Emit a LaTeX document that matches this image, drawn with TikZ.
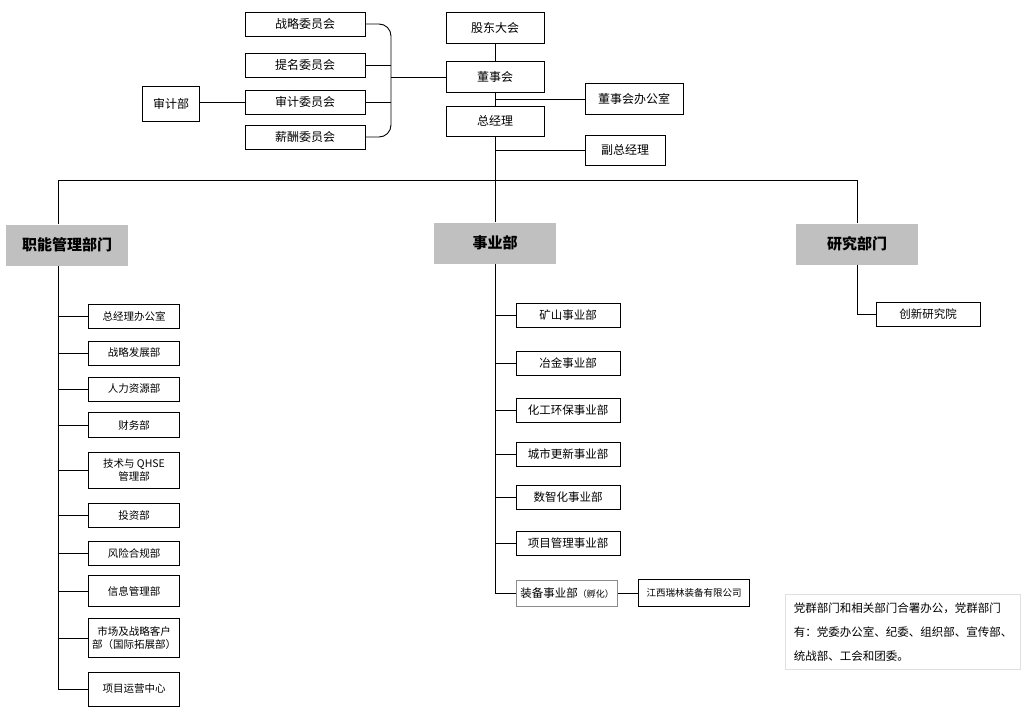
\documentclass[tikz,border=0pt]{standalone}
\usepackage{fontspec}
\setmainfont{Noto Sans CJK SC}
\definecolor{hdgray}{HTML}{C0C0C0}
\tikzset{
  orgbox/.style  = {shape=rectangle, draw, inner sep=1pt, align=center,
                    font=\fontsize{12}{14}\selectfont},
  cmbox/.style   = {orgbox, minimum width=120, minimum height=24},
  topbox/.style  = {orgbox, minimum width=98, minimum height=31},
  head/.style    = {shape=rectangle, fill=hdgray, minimum width=122, minimum height=41,
                    font=\fontsize{15}{17}\selectfont\bfseries},
  fnbox/.style   = {orgbox, minimum width=91, font=\fontsize{10.5}{13}\selectfont},
  busbox/.style  = {orgbox, minimum width=104, minimum height=24,
                    font=\fontsize{11.5}{14}\selectfont},
  note/.style    = {shape=rectangle, draw=black!12, align=left, inner sep=8pt,
                    font=\fontsize{11.5}{24}\selectfont}
}
\begin{document}
\begin{tikzpicture}
  [
    x = 1pt, y = -1pt,
    line width = 0.9pt
  ]
  \useasboundingbox (0,0) rectangle (1023,712);

  % board and committees
  \node [cmbox] (zlw) at (305,24)  {战略委员会};
  \node [cmbox] (tmw) at (305,65)  {提名委员会};
  \node [cmbox] (sjw) at (305,102) {审计委员会};
  \node [cmbox] (xcw) at (305,137) {薪酬委员会};
  \node [orgbox, minimum width=57, minimum height=35] (sjb) at (171,104) {审计部};
  \node [topbox] (gd)  at (495,28)  {股东大会};
  \node [topbox] (dsh) at (495,77)  {董事会};
  \node [topbox] (dsb) at (634,99)  {董事会办公室};
  \node [topbox, minimum height=30] (zjl) at (495,121) {总经理};
  \node [orgbox, minimum width=80, minimum height=30] (fzjl) at (625,150) {副总经理};
  \coordinate (brk) at (391,77);
  \coordinate (lft) at (58,180);

  \draw [rounded corners=12] (zlw.east) -| (brk |- xcw.east) -- (xcw.east);
  \draw (tmw.east) -- (brk |- tmw.east);
  \draw (sjw.east) -- (brk |- sjw.east);
  \draw (brk) -- (dsh.west);
  \draw (sjw.west) -- (sjw.west -| sjb.east);
  \draw (gd) -- (dsh);
  \draw (dsh) -- (zjl);
  \draw (dsh.south |- dsb.west) -- (dsb.west);
  \draw (zjl.south |- fzjl.west) -- (fzjl.west);

  % three groups
  \node [head] (znb) at (67,245)  {职能管理部门};
  \node [head] (sy)  at (495,243) {事业部};
  \node [head] (yjb) at (857,244) {研究部门};
  \draw (zjl.south) -- (sy.north);
  \draw (znb.north -| lft) -- (lft) -- (lft -| yjb.north) -- (yjb.north);

  \foreach \n/\y/\h/\t in {
    zjb/316/24/总经理办公室,
    zlfz/353/24/战略发展部,
    rlzy/389/24/人力资源部,
    cwb/425/25/财务部,
    qhse/470/36/{技术与 QHSE\\管理部},
    tzb/515/24/投资部,
    fxhg/553/24/风险合规部,
    xxgl/591/31/信息管理部,
    scb/638/39/{市场及战略客户\\部（国际拓展部）},
    xmyy/689/34/项目运营中心}
  {
    \node [fnbox, minimum height=\h] (\n) at (134,\y) {\t};
    \draw (lft |- \n.west) -- (\n.west);
  }
  \draw (lft |- znb.south) -- (lft |- xmyy.west);

  \foreach \n/\y/\t in {
    kss/315/矿山事业部,
    yjs/363/冶金事业部,
    hgs/410/化工环保事业部,
    css/454/城市更新事业部,
    szs/497/数智化事业部,
    xms/543/项目管理事业部}
  {
    \node [busbox] (\n) at (568,\y) {\t};
    \draw (sy.south |- \n.west) -- (\n.west);
  }
  \node [busbox, draw=black!45, minimum width=101, minimum height=26] (zbs) at (567,593)
    {装备事业部{\fontsize{9}{11}\selectfont（孵化）}};
  \node [orgbox, minimum width=111, minimum height=27, font=\fontsize{9.5}{11}\selectfont]
    (jxrl) at (694,593) {江西瑞林装备有限公司};
  \draw (sy.south) -- (sy.south |- zbs.west) -- (zbs.west);
  \draw (zbs.east) -- (jxrl.west);

  \node [busbox] (cxy) at (928,314) {创新研究院};
  \draw (yjb.south) |- (cxy.west);

  \node [note] (dq) at (903,632)
    {党群部门和相关部门合署办公，党群部门\\
     有：党委办公室、纪委、组织部、宣传部、\\
     统战部、工会和团委。};
\end{tikzpicture}
\end{document}
